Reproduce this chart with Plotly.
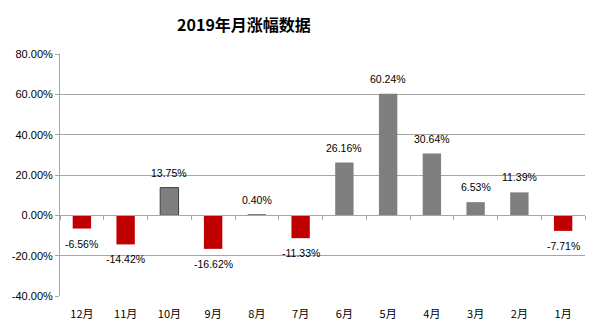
import plotly.graph_objects as go

months = ["12月", "11月", "10月", "9月", "8月", "7月", "6月", "5月", "4月", "3月", "2月", "1月"]
values = [-6.56, -14.42, 13.75, -16.62, 0.40, -11.33, 26.16, 60.24, 30.64, 6.53, 11.39, -7.71]
outlined = ["10月"]
y_ticks = [80, 60, 40, 20, 0, -20, -40]
title = "2019年月涨幅数据"

GRAY = "#7F7F7F"
RED = "#C00000"
GRID = "#A6A6A6"

colors = [GRAY if v >= 0 else RED for v in values]
line_w = [1 if m in outlined else 0 for m in months]

fig = go.Figure()
fig.add_trace(go.Bar(
    x=months, y=values,
    marker=dict(color=colors, line=dict(color="#3F3F3F", width=line_w)),
    hoverinfo="skip",
))

for m, v in zip(months, values):
    fig.add_annotation(
        x=m, y=v, text=f"{v:.2f}%", showarrow=False,
        yanchor="bottom" if v >= 0 else "top",
        yshift=7 if v >= 0 else -7,
        font=dict(family="Liberation Sans, Arial", size=10.5, color="#000"),
    )

n = len(months)
fig.update_layout(
    width=600, height=333,
    margin=dict(l=59, r=15, t=54, b=33),
    paper_bgcolor="white", plot_bgcolor="white",
    bargap=0.58,
    showlegend=False,
    title=dict(text=f"<b>{title}</b>", x=244 / 600, xanchor="center", y=1 - 25 / 333, yanchor="middle",
               font=dict(family="Noto Sans CJK SC", size=16, color="#000")),
    font=dict(family="Liberation Sans, Arial", size=11, color="#000"),
    xaxis=dict(type="category", categoryorder="array", categoryarray=months,
               range=[-0.5, n - 0.5], showline=False, showgrid=False, zeroline=False,
               ticks="", ticklabelstandoff=10,
               tickfont=dict(family="Noto Sans CJK SC, Liberation Sans", size=11)),
    xaxis2=dict(overlaying="x", anchor="free", position=(0 - min(y_ticks)) / (max(y_ticks) - min(y_ticks)),
                range=[-0.5, n - 0.5], tickmode="array",
                tickvals=[i - 0.5 for i in range(n + 1)], showticklabels=False,
                ticks="outside", ticklen=4, tickcolor=GRID, showline=True, linecolor=GRID,
                linewidth=1, showgrid=False, zeroline=False),
    yaxis=dict(range=[min(y_ticks), max(y_ticks)], tickmode="array", tickvals=y_ticks,
               ticktext=[f"{t:.2f}%" for t in y_ticks],
               showgrid=True, gridcolor=GRID, gridwidth=1, zeroline=False,
               showline=True, linecolor=GRID, linewidth=1,
               ticks="outside", ticklen=4, tickcolor=GRID),
)
# invisible trace to activate xaxis2
fig.add_trace(go.Scatter(x=[0], y=[0], xaxis="x2", mode="markers",
                         marker=dict(opacity=0), hoverinfo="skip", showlegend=False))

fig.write_html("out.html")
